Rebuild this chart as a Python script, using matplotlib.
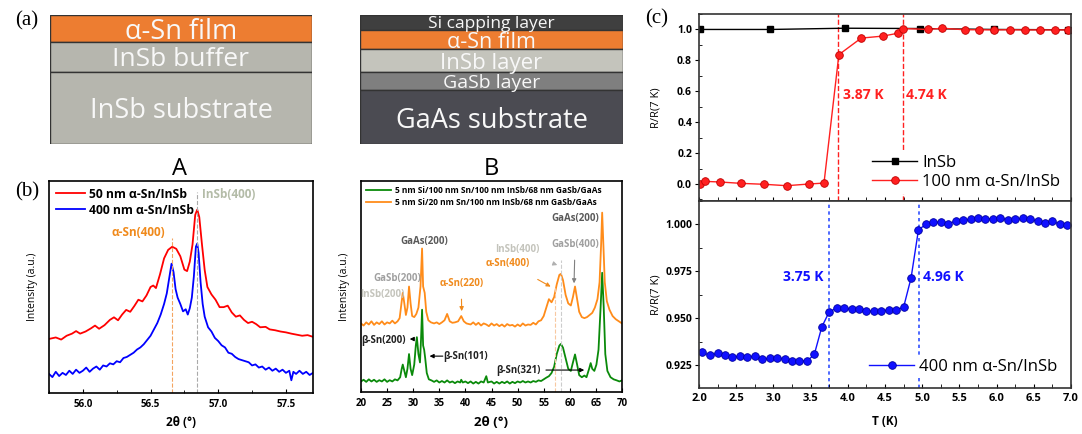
import matplotlib
matplotlib.use("Agg")
import matplotlib.pyplot as plt
from matplotlib.ticker import MultipleLocator, FormatStrFormatter

plt.rcParams["font.family"] = ["Open Sans", "DejaVu Sans"]

# ── Data ──────────────────────────────────────────────────────────────────────

# (a) layer stacks, top to bottom (relative thickness in the schematic)
left_layers = ["α-Sn film", "InSb buffer", "InSb substrate"]
left_thick = [27, 30, 72]
left_colors = ["#ED7D31", "#B6B6AE", "#B6B6AE"]
left_fs = [19.5, 19, 19.5]

right_layers = ["Si capping layer", "α-Sn film", "InSb layer", "GaSb layer", "GaAs substrate"]
right_thick = [15, 19, 23, 18, 54]
right_colors = ["#3F3F3F", "#ED7D31", "#C4C4BC", "#7F7F7F", "#4B4B52"]
right_fs = [12.5, 15.5, 16, 14, 19.5]

# (b) A: high-res XRD around (400)
a_red_x = [55.75, 55.80, 55.84, 55.88, 55.92, 55.95, 55.98, 56.02, 56.06, 56.09,
           56.12, 56.16, 56.20, 56.23, 56.26, 56.29, 56.32, 56.35, 56.38, 56.41,
           56.44, 56.47, 56.50, 56.52, 56.54, 56.57, 56.60, 56.63, 56.66, 56.69,
           56.72, 56.75, 56.77, 56.79, 56.81, 56.83, 56.845, 56.86, 56.88, 56.90,
           56.92, 56.95, 56.98, 57.01, 57.04, 57.07, 57.10, 57.13, 57.16, 57.19,
           57.22, 57.25, 57.28, 57.31, 57.35, 57.38, 57.42, 57.46, 57.50, 57.54,
           57.58, 57.62, 57.66, 57.70]
a_red_y = [0.255, 0.262, 0.252, 0.270, 0.280, 0.292, 0.280, 0.290, 0.305, 0.318,
           0.303, 0.320, 0.345, 0.357, 0.343, 0.370, 0.392, 0.383, 0.410, 0.440,
           0.432, 0.460, 0.500, 0.507, 0.495, 0.560, 0.635, 0.675, 0.690, 0.680,
           0.645, 0.582, 0.575, 0.620, 0.700, 0.840, 0.865, 0.830, 0.700, 0.580,
           0.500, 0.465, 0.440, 0.405, 0.405, 0.412, 0.380, 0.360, 0.366, 0.345,
           0.330, 0.336, 0.325, 0.310, 0.312, 0.300, 0.296, 0.290, 0.286, 0.280,
           0.275, 0.270, 0.273, 0.265]

a_blue_x = [55.75, 55.775, 55.80, 55.825, 55.85, 55.875, 55.90, 55.925, 55.95, 55.975,
            56.00, 56.025, 56.05, 56.075, 56.10, 56.125, 56.15, 56.175, 56.20, 56.225,
            56.25, 56.275, 56.30, 56.325, 56.35, 56.375, 56.40, 56.425, 56.45, 56.475,
            56.50, 56.525, 56.55, 56.575, 56.60, 56.62, 56.64, 56.655, 56.67, 56.685,
            56.70, 56.72, 56.74, 56.76, 56.775, 56.79, 56.805, 56.82, 56.835, 56.845,
            56.855, 56.87, 56.885, 56.90, 56.925, 56.95, 56.975, 57.00, 57.025, 57.05,
            57.075, 57.10, 57.125, 57.15, 57.175, 57.20, 57.225, 57.25, 57.275, 57.30,
            57.325, 57.35, 57.375, 57.40, 57.425, 57.45, 57.475, 57.50, 57.525, 57.54,
            57.555, 57.575, 57.60, 57.625, 57.65, 57.675, 57.70]
a_blue_y = [0.090, 0.075, 0.100, 0.080, 0.095, 0.085, 0.105, 0.090, 0.110, 0.095,
            0.105, 0.120, 0.100, 0.115, 0.125, 0.110, 0.130, 0.125, 0.140, 0.135,
            0.150, 0.145, 0.165, 0.170, 0.180, 0.190, 0.205, 0.215, 0.230, 0.250,
            0.270, 0.300, 0.330, 0.370, 0.420, 0.470, 0.550, 0.610, 0.570, 0.490,
            0.450, 0.420, 0.385, 0.395, 0.370, 0.400, 0.450, 0.550, 0.690, 0.705,
            0.660, 0.520, 0.420, 0.360, 0.310, 0.290, 0.260, 0.245, 0.225, 0.215,
            0.190, 0.185, 0.170, 0.160, 0.155, 0.150, 0.145, 0.130, 0.135, 0.120,
            0.125, 0.110, 0.120, 0.105, 0.115, 0.100, 0.110, 0.095, 0.105, 0.060,
            0.100, 0.090, 0.105, 0.090, 0.100, 0.085, 0.095]

# (b) B: wide-range XRD
b_or_x = [20.0, 20.5, 21.0, 21.5, 22.0, 22.5, 23.0, 23.5, 24.0, 24.5, 25.0, 25.5,
          26.0, 26.5, 27.0, 27.4, 27.8, 28.0, 28.3, 28.6, 28.9, 29.2, 29.5, 29.8,
          30.2, 30.6, 31.0, 31.4, 31.7, 31.9, 32.2, 32.5, 32.9, 33.4, 34.0, 34.5,
          35.0, 35.5, 36.0, 36.5, 37.0, 37.5, 38.0, 38.6, 39.2, 39.7, 40.2, 41.0,
          41.5, 42.0, 42.5, 43.0, 43.5, 44.0, 44.5, 45.0, 45.5, 46.0, 46.5, 47.0,
          47.5, 48.0, 48.5, 49.0, 49.5, 50.0, 50.5, 51.0, 51.5, 52.0, 52.5, 53.0,
          53.5, 54.0, 54.5, 55.0, 55.5, 56.0, 56.5, 57.0, 57.5, 58.0, 58.3, 58.7,
          59.2, 59.7, 60.2, 60.6, 61.0, 61.4, 61.8, 62.3, 62.8, 63.3, 63.8, 64.3,
          64.8, 65.3, 65.7, 66.0, 66.2, 66.4, 66.7, 67.1, 67.6, 68.2, 68.8, 69.4,
          70.0]
b_or_y = [0.325, 0.315, 0.330, 0.320, 0.335, 0.318, 0.330, 0.322, 0.335, 0.320, 0.330, 0.325,
          0.338, 0.325, 0.335, 0.350, 0.430, 0.470, 0.420, 0.365, 0.400, 0.500, 0.420, 0.360,
          0.355, 0.370, 0.400, 0.500, 0.680, 0.500, 0.470, 0.380, 0.340, 0.330, 0.325, 0.330,
          0.322, 0.330, 0.340, 0.370, 0.335, 0.328, 0.330, 0.335, 0.360, 0.335, 0.325, 0.320,
          0.330, 0.318, 0.328, 0.315, 0.325, 0.320, 0.312, 0.325, 0.315, 0.322, 0.312, 0.320,
          0.310, 0.322, 0.315, 0.318, 0.310, 0.320, 0.312, 0.325, 0.315, 0.320, 0.318, 0.328,
          0.320, 0.335, 0.340, 0.360, 0.400, 0.440, 0.425, 0.450, 0.510, 0.555, 0.560, 0.530,
          0.460, 0.420, 0.410, 0.450, 0.500, 0.440, 0.380, 0.355, 0.350, 0.355, 0.365, 0.375,
          0.400, 0.440, 0.520, 0.700, 0.850, 0.720, 0.520, 0.430, 0.390, 0.360, 0.345, 0.335,
          0.325]

b_gr_x = [20.0, 20.5, 21.0, 21.5, 22.0, 22.5, 23.0, 23.5, 24.0, 24.5, 25.0, 25.5,
          26.0, 26.5, 27.0, 27.5, 27.8, 28.0, 28.3, 28.6, 28.9, 29.2, 29.5, 29.8,
          30.2, 30.5, 30.7, 31.0, 31.3, 31.5, 31.7, 31.9, 32.1, 32.3, 32.6, 33.0,
          33.5, 34.0, 34.5, 35.0, 35.5, 36.0, 36.5, 37.0, 37.5, 38.0, 38.5, 39.0,
          39.2, 39.5, 40.0, 40.5, 41.0, 41.5, 42.0, 42.5, 43.0, 43.5, 44.0, 44.3,
          45.0, 45.5, 46.0, 46.5, 47.0, 47.5, 48.0, 48.5, 49.0, 49.5, 50.0, 50.5,
          51.0, 51.5, 52.0, 52.5, 53.0, 53.5, 54.0, 54.5, 55.0, 55.5, 56.0, 56.5,
          57.0, 57.5, 58.0, 58.3, 58.7, 59.2, 59.7, 60.2, 60.6, 61.0, 61.4, 61.8,
          62.3, 62.8, 63.2, 63.7, 64.0, 64.3, 64.7, 65.1, 65.5, 65.9, 66.2, 66.5,
          66.8, 67.2, 67.8, 68.4, 69.0, 69.5, 70.0]
b_gr_y = [0.050, 0.058, 0.048, 0.060, 0.050, 0.058, 0.048, 0.056, 0.050, 0.060, 0.048, 0.056,
          0.050, 0.060, 0.055, 0.070, 0.110, 0.130, 0.100, 0.070, 0.110, 0.180, 0.110, 0.080,
          0.130, 0.220, 0.260, 0.180, 0.140, 0.250, 0.390, 0.220, 0.200, 0.160, 0.090, 0.060,
          0.055, 0.048, 0.055, 0.045, 0.052, 0.045, 0.055, 0.045, 0.050, 0.042, 0.050, 0.045,
          0.058, 0.045, 0.050, 0.042, 0.050, 0.040, 0.048, 0.040, 0.050, 0.045, 0.075, 0.045,
          0.050, 0.040, 0.048, 0.040, 0.048, 0.042, 0.050, 0.040, 0.048, 0.042, 0.050, 0.045,
          0.052, 0.045, 0.050, 0.045, 0.052, 0.048, 0.055, 0.052, 0.060, 0.068, 0.075, 0.090,
          0.120, 0.180, 0.220, 0.228, 0.210, 0.160, 0.110, 0.100, 0.140, 0.178, 0.130, 0.080,
          0.070, 0.078, 0.070, 0.110, 0.137, 0.110, 0.100, 0.130, 0.200, 0.400, 0.565, 0.400,
          0.180, 0.100, 0.070, 0.060, 0.055, 0.050, 0.055]

# (c) R/R(7 K) vs T
insb_T = [2.02, 2.96, 3.96, 4.97, 5.97, 6.96]
insb_R = [1.000, 1.000, 1.008, 1.006, 1.000, 0.998]

sn100_T = [2.01, 2.08, 2.28, 2.57, 2.88, 3.18, 3.48, 3.68, 3.88, 4.18, 4.47, 4.68,
           4.74, 5.08, 5.27, 5.57, 5.76, 5.97, 6.18, 6.38, 6.58, 6.78, 6.96]
sn100_R = [0.000, 0.017, 0.013, 0.004, -0.002, -0.011, 0.000, 0.006, 0.837, 0.944,
           0.957, 0.976, 1.006, 1.000, 1.008, 0.998, 0.998, 0.997, 0.998, 0.997,
           0.997, 0.997, 0.997]

sn400_T = [2.04, 2.15, 2.25, 2.35, 2.45, 2.55, 2.65, 2.75, 2.85, 2.95, 3.05, 3.15,
           3.25, 3.35, 3.45, 3.55, 3.65, 3.75, 3.85, 3.95, 4.05, 4.15, 4.25, 4.35,
           4.45, 4.55, 4.65, 4.75, 4.85, 4.95, 5.05, 5.15, 5.25, 5.35, 5.45, 5.55,
           5.65, 5.75, 5.85, 5.95, 6.05, 6.15, 6.25, 6.35, 6.45, 6.55, 6.65, 6.75,
           6.85, 6.95]
sn400_R = [0.9318, 0.9302, 0.9314, 0.9305, 0.9293, 0.9298, 0.9294, 0.9298, 0.9282, 0.9286,
           0.9287, 0.9284, 0.9273, 0.9273, 0.9271, 0.9307, 0.9453, 0.9534, 0.9554, 0.9554,
           0.9547, 0.9549, 0.9538, 0.9536, 0.9538, 0.9545, 0.9543, 0.9559, 0.9714, 0.9972,
           1.0000, 1.0012, 1.0012, 1.0000, 1.0020, 1.0023, 1.0028, 1.0034, 1.0030, 1.0030,
           1.0036, 1.0023, 1.0027, 1.0034, 1.0027, 1.0018, 1.0009, 1.0018, 1.0000, 0.9998]

tc100 = [3.87, 4.74]
tc400 = [3.75, 4.96]

# ── Figure ────────────────────────────────────────────────────────────────────

W, H = 1082, 434
fig = plt.figure(figsize=(W / 100, H / 100), dpi=100, facecolor="white")


def add_ax(l, t, r, b):
    return fig.add_axes([l / W, 1 - b / H, (r - l) / W, (b - t) / H])


def stack(ax, names, thick, colors, sizes):
    tops = [sum(thick[:i]) for i in range(len(thick))]
    ax.bar([0.5] * len(thick), thick, bottom=tops, width=1.0, color=colors,
           edgecolor="#333333", linewidth=1.0)
    for name, t, h, fs in zip(names, tops, thick, sizes):
        ax.text(0.5, t + h / 2, name, ha="center", va="center_baseline",
                color="#F8F8F8", fontsize=fs)
    ax.set_xlim(0, 1)
    ax.set_ylim(sum(thick), 0)
    ax.axis("off")


# ── (a) layer schematics ──────────────────────────────────────────────────────
stack(add_ax(50, 15, 312, 144), left_layers, left_thick, left_colors, left_fs)
stack(add_ax(360, 15, 623, 144), right_layers, right_thick, right_colors, right_fs)

SERIF = "Liberation Serif"
fig.text(27 / W, 1 - 21 / H, "(a)", family=SERIF, fontsize=15, ha="center", va="center")
fig.text(27 / W, 1 - 192 / H, "(b)", family=SERIF, fontsize=15, ha="center", va="center")
fig.text(657 / W, 1 - 19 / H, "(c)", family=SERIF, fontsize=15, ha="center", va="center")
fig.text(180 / W, 1 - 169 / H, "A", fontsize=17, ha="center", va="center")
fig.text(491 / W, 1 - 169 / H, "B", fontsize=17, ha="center", va="center")


def style_xrd(ax):
    ax.set_yticks([])
    ax.tick_params(axis="x", direction="in", length=3, labelsize=7, pad=4)
    ax.tick_params(axis="x", which="minor", direction="in", length=2)
    for sp in ax.spines.values():
        sp.set_linewidth(1.2)
    ax.set_ylabel("Intensity (a.u.)", fontsize=7.5, labelpad=8)
    ax.set_xlabel("2θ (°)", fontsize=8.5, fontweight="bold", labelpad=5)


# ── (b) A ─────────────────────────────────────────────────────────────────────
axA = add_ax(49, 181, 313, 393)
axA.plot(a_red_x, a_red_y, color="#FF0000", lw=1.3, label="50 nm α-Sn/InSb")
axA.plot(a_blue_x, a_blue_y, color="#0000FF", lw=1.3, label="400 nm α-Sn/InSb")
axA.plot([56.66, 56.66], [0, 0.73], ls="--", color="#F4A460", lw=0.8)
axA.plot([56.84, 56.84], [0, 0.95], ls="--", color="#AAAAAA", lw=0.8)
axA.text(56.41, 0.755, "α-Sn(400)", color="#F08A1C", fontsize=8.5,
         fontweight="bold", ha="center", va="center")
axA.text(57.08, 0.934, "InSb(400)", color="#B4BCA8", fontsize=8.5,
         fontweight="bold", ha="center", va="center")
axA.set_xlim(55.75, 57.7)
axA.set_ylim(0, 1)
axA.xaxis.set_major_locator(MultipleLocator(0.5))
axA.xaxis.set_minor_locator(MultipleLocator(0.25))
axA.xaxis.set_major_formatter(FormatStrFormatter("%.1f"))
style_xrd(axA)
axA.legend(loc="upper left", frameon=False, handlelength=2.4,
           prop={"weight": "bold", "size": 8.7}, borderaxespad=0.15,
           labelspacing=0.25, handletextpad=0.35)

# ── (b) B ─────────────────────────────────────────────────────────────────────
axB = add_ax(361, 181, 622, 392)
axB.plot(b_gr_x, b_gr_y, color="#0A8A0A", lw=1.3,
         label="5 nm Si/100 nm Sn/100 nm InSb/68 nm GaSb/GaAs")
axB.plot(b_or_x, b_or_y, color="#FF8C1A", lw=1.3,
         label="5 nm Si/20 nm Sn/100 nm InSb/68 nm GaSb/GaAs")
axB.plot([57.2, 57.2], [0, 0.50], ls="--", color="#F8C8A0", lw=0.8)
axB.plot([58.3, 58.3], [0, 0.626], ls="--", color="#CCCCCC", lw=0.8)
axB.set_xlim(20, 70)
axB.set_ylim(0, 1)
axB.xaxis.set_major_locator(MultipleLocator(5))
style_xrd(axB)
axB.set_xlabel("2θ (°)", fontsize=9.5, fontweight="bold", labelpad=5)

ann = dict(fontsize=7, fontweight="bold", ha="center", va="center")
axB.text(24.0, 0.464, "InSb(200)", color="#C4C4BC", **ann)
axB.text(26.9, 0.536, "GaSb(200)", color="#A0A0A0", **ann)
axB.text(32.1, 0.711, "GaAs(200)", color="#5A5A5A", **ann)
axB.text(61.0, 0.820, "GaAs(200)", color="#5A5A5A", **ann)
axB.text(24.4, 0.246, "β-Sn(200)", color="#222222", **ann)
axB.text(40.1, 0.170, "β-Sn(101)", color="#222222", **ann)
axB.text(50.1, 0.104, "β-Sn(321)", color="#222222", **ann)
axB.annotate("α-Sn(220)", xy=(39.3, 0.37), xytext=(39.2, 0.512), color="#F08A1C",
             arrowprops=dict(arrowstyle="-|>", color="#F08A1C", lw=0.8,
                             mutation_scale=6, shrinkA=5), **ann)
axB.annotate("InSb(400)", xy=(58.1, 0.597), xytext=(49.9, 0.673), color="#C4C4BC",
             arrowprops=dict(arrowstyle="-|>", color="#B0B0B0", lw=0.8,
                             mutation_scale=6, shrinkA=12), **ann)
axB.annotate("α-Sn(400)", xy=(56.8, 0.493), xytext=(48.2, 0.611), color="#F08A1C",
             arrowprops=dict(arrowstyle="-|>", color="#F08A1C", lw=0.8,
                             mutation_scale=6, shrinkA=12), **ann)
axB.annotate("GaSb(400)", xy=(60.8, 0.502), xytext=(61.0, 0.697), color="#A0A0A0",
             arrowprops=dict(arrowstyle="-|>", color="#808080", lw=0.8,
                             mutation_scale=6, shrinkA=5), **ann)
arr = dict(arrowstyle="-|>", color="black", lw=0.8, mutation_scale=6)
axB.annotate("", xy=(28.8, 0.251), xytext=(30.5, 0.251), arrowprops=arr)
axB.annotate("", xy=(32.6, 0.17), xytext=(36.2, 0.17), arrowprops=arr)
axB.annotate("", xy=(63.3, 0.104), xytext=(54.9, 0.104), arrowprops=arr)
axB.legend(loc="upper left", frameon=False, handlelength=3.0,
           prop={"weight": "bold", "size": 6}, borderaxespad=0.25,
           labelspacing=0.3, handletextpad=0.4)

# ── (c) transport ─────────────────────────────────────────────────────────────


def style_c(ax):
    ax.set_xlim(2.0, 7.0)
    ax.xaxis.set_major_locator(MultipleLocator(0.5))
    ax.xaxis.set_minor_locator(MultipleLocator(0.25))
    ax.tick_params(axis="x", which="both", direction="in", length=3, labelsize=8)
    ax.tick_params(axis="y", which="major", direction="out", length=3,
                   labelsize=7.5, pad=2)
    ax.tick_params(axis="y", which="minor", direction="in", length=2)
    for sp in ax.spines.values():
        sp.set_linewidth(1.2)
        sp.set_color("#333333")


axT = add_ax(699, 14, 1071, 201)
axT.plot(insb_T, insb_R, color="black", lw=1.0, marker="s", ms=4.5, label="InSb")
axT.plot(sn100_T, sn100_R, color="#FF2020", lw=1.0, marker="o", ms=5.5,
         mfc="#FF2020", mec="#C00000", mew=0.6, label="100 nm α-Sn/InSb")
for tc in tc100:
    axT.axvline(tc, color="#FF2020", ls="--", lw=1.0, zorder=1)
axT.text(4.21, 0.575, "3.87 K", color="#FF2020", fontsize=10,
         fontweight="bold", ha="center", va="center")
axT.text(5.06, 0.575, "4.74 K", color="#FF2020", fontsize=10,
         fontweight="bold", ha="center", va="center")
axT.set_ylim(-0.11, 1.1)
axT.yaxis.set_major_locator(MultipleLocator(0.2))
axT.yaxis.set_minor_locator(MultipleLocator(0.1))
axT.yaxis.set_major_formatter(FormatStrFormatter("%.1f"))
style_c(axT)
axT.tick_params(axis="x", labelbottom=False)
axT.set_ylabel("R/R(7 K)", fontsize=8)
axT.yaxis.set_label_coords(-37 / 372, 0.5)
legT = axT.legend(loc="lower right", fontsize=12, handlelength=2.7,
                  framealpha=1, facecolor="white", edgecolor="none",
                  borderaxespad=0.45, labelspacing=0.2, handletextpad=0.3,
                  borderpad=0.2)
legT.set_zorder(5)

axBt = add_ax(699, 201, 1071, 388)
axBt.plot(sn400_T, sn400_R, color="#1010FF", lw=1.0, marker="o", ms=5.5,
          mfc="#1010FF", mec="#0000A0", mew=0.6, label="400 nm α-Sn/InSb")
for tc in tc400:
    axBt.axvline(tc, color="#3050FF", ls=(0, (2, 2)), lw=1.2, zorder=1)
axBt.text(3.395, 0.9719, "3.75 K", color="#1010FF", fontsize=10,
          fontweight="bold", ha="center", va="center")
axBt.text(5.28, 0.9719, "4.96 K", color="#1010FF", fontsize=10,
          fontweight="bold", ha="center", va="center")
axBt.set_ylim(0.9128, 1.0125)
axBt.yaxis.set_major_locator(MultipleLocator(0.025))
axBt.yaxis.set_minor_locator(MultipleLocator(0.0125))
axBt.yaxis.set_major_formatter(FormatStrFormatter("%.3f"))
style_c(axBt)
axBt.set_ylabel("R/R(7 K)", fontsize=8)
axBt.yaxis.set_label_coords(-37 / 372, 0.5)
axBt.set_xlabel("T (K)", fontsize=8.5, fontweight="bold", labelpad=8)
legB = axBt.legend(loc="lower right", fontsize=12, handlelength=2.7,
                   framealpha=1, facecolor="white", edgecolor="none",
                   borderaxespad=0.6, handletextpad=0.3, borderpad=0.2)
legB.set_zorder(5)

for ax in (axA, axB, axT, axBt):
    for lab in ax.get_xticklabels() + ax.get_yticklabels():
        lab.set_fontweight("bold")

fig.savefig("out.png", dpi=100, facecolor="white")
